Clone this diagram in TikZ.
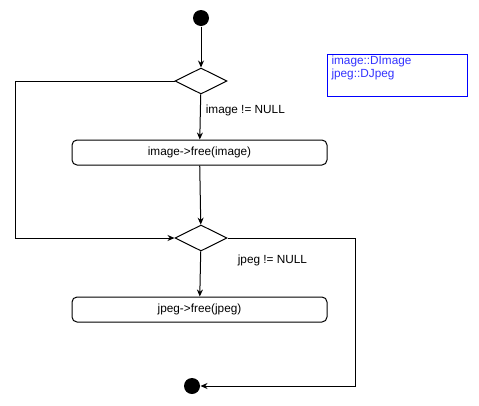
\documentclass[tikz,border=0pt]{standalone}
\usepackage{fontspec}
\setmainfont{Liberation Sans}
\usetikzlibrary{shapes.geometric,arrows.meta}

\begin{document}
\begin{tikzpicture}[x=1pt,y=-1pt,line width=1pt,font=\fontsize{11.8}{13}\selectfont,
  flow/.style={-{Stealth[length=7pt,width=6pt]}},
  dot/.style={circle,fill=black,minimum size=16pt,inner sep=0pt},
  choice/.style={diamond,draw,minimum width=52pt,minimum height=26pt,inner sep=0pt,aspect=2},
  action/.style={draw,rounded corners=5pt,minimum width=255pt,minimum height=25pt}]
\useasboundingbox (0,0) rectangle (479,405);
\node[dot] (start) at (201,18) {};
\node[choice] (ifimg) at (201,81) {};
\node[action] (freeimg) at (199.5,152.5) {image->free(image)};
\node[choice] (ifjpg) at (201,238) {};
\node[action] (freejpg) at (199.5,309.5) {jpeg->free(jpeg)};
\node[dot] (stop) at (192,386) {};
\node[anchor=west] (cimg) at (202,110) {image != NULL};
\node[anchor=west] (cjpg) at (234,260) {jpeg != NULL};
\draw[blue] (327,54) rectangle (467,96);
\node[text=blue!80!white,anchor=north west,align=left,inner sep=0pt] (types) at (331,55)
  {image::DImage\\jpeg::DJpeg};
\draw[flow] (start) -- (ifimg);
\draw[flow] (ifimg) -- (freeimg);
\draw[flow] (freeimg) -- (ifjpg);
\draw[flow] (ifjpg) -- (freejpg);
\draw[flow] (ifimg.west) -- (15,81) -- (15,238) -- (ifjpg.west);
\draw[flow] (ifjpg.east) -- (355,238) -- (355,386) -- (stop);
\end{tikzpicture}
\end{document}
